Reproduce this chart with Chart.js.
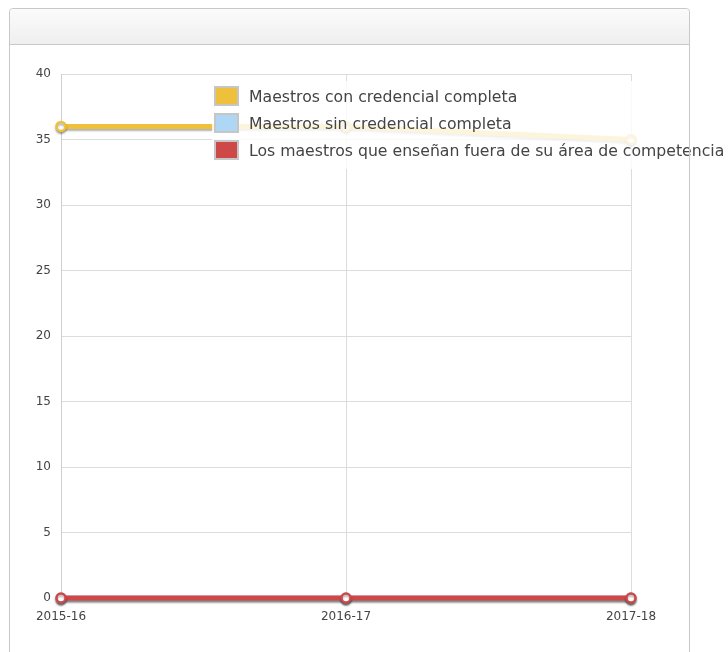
<!DOCTYPE html>
<html>
<head>
<meta charset="utf-8">
<script src="https://cdn.jsdelivr.net/npm/chart.js@4.4.0/dist/chart.umd.min.js"></script>
<style>
	body { margin: 0; background: #fff; font-family: "DejaVu Sans", Verdana, sans-serif; overflow: hidden; }
	.panel { position: absolute; left: 9px; top: 8px; width: 679px; height: 700px; border: 1px solid #c8c8c8; border-radius: 4px; }
	.panel .head { height: 35px; border-bottom: 1px solid #c8c8c8; border-radius: 4px 4px 0 0; background: linear-gradient(#fbfbfb, #efefef); }
	.wrap { position: absolute; left: 0; top: 44px; width: 728px; height: 608px; }
	#leyenda { position: absolute; left: 212px; top: 81px; width: 476px; padding: 2px 0 5px 2px; background: rgba(255,255,255,0.82); }
	#leyenda div { height: 27px; line-height: 27px; white-space: nowrap; font-size: 15.7px; color: #444; }
	#leyenda span { display: inline-block; width: 25px; height: 20px; border: 2px solid #c6c6c6; box-sizing: border-box; vertical-align: -4px; margin-right: 10px; }
	.borde { position: absolute; left: 689px; top: 44px; width: 1px; height: 660px; background: #c8c8c8; }
</style>
</head>
<body>
<div class="panel"><div class="head"></div></div>
<div class="wrap"><canvas id="grafica"></canvas></div>
<div id="leyenda"></div>
<div class="borde"></div>
<script>
var anios = ["2015-16", "2016-17", "2017-18"];
var conCredencial = [36, 36, 35];
var sinCredencial = [0, 0, 0];
var fueraDeArea = [0, 0, 0];
var nombres = ["Maestros con credencial completa", "Maestros sin credencial completa", "Los maestros que enseñan fuera de su área de competencia"];
var colores = ["#eec03b", "#aed6f5", "#cf4848"];

// sombra debajo de las lineas
var sombra = {
	id: 'sombra',
	beforeDatasetDraw: function(chart) {
		var c = chart.ctx;
		c.save();
		c.shadowColor = 'rgba(0,0,0,0.3)';
		c.shadowOffsetY = 2;
		c.shadowBlur = 2;
	},
	afterDatasetDraw: function(chart) {
		chart.ctx.restore();
	}
};

function serie(i, datos, orden) {
	return {
		label: nombres[i],
		data: datos,
		borderColor: colores[i],
		backgroundColor: '#fff',
		pointBackgroundColor: '#fff',
		pointBorderColor: colores[i],
		pointBorderWidth: 2.5,
		pointRadius: 4.5,
		borderWidth: 5,
		tension: 0,
		fill: false,
		clip: false,
		order: orden
	};
}

var ctx = document.getElementById('grafica');
var grafica = new Chart(ctx, {
	type: 'line',
	data: {
		labels: anios,
		datasets: [
			serie(0, conCredencial, 2),
			serie(1, sinCredencial, 1),
			serie(2, fueraDeArea, 0)
		]
	},
	options: {
		responsive: true,
		maintainAspectRatio: false,
		animation: false,
		layout: { padding: { left: 0, right: 97, top: 30, bottom: 14 } },
		plugins: {
			legend: { display: false },
			tooltip: { enabled: false }
		},
		scales: {
			x: {
				offset: false,
				grid: { color: '#dcdcdc', drawTicks: false },
				border: { color: '#cfcfcf' },
				ticks: { color: '#444', padding: 12, maxRotation: 0, font: { family: 'DejaVu Sans', size: 12 } },
				afterFit: function(s) { s.height = 40; }
			},
			y: {
				min: 0,
				max: 40,
				grid: { color: '#dcdcdc', drawTicks: false },
				border: { color: '#cfcfcf' },
				ticks: { stepSize: 5, color: '#444', padding: 10, font: { family: 'DejaVu Sans', size: 12 } },
				afterFit: function(s) { s.width = 61; }
			}
		}
	},
	plugins: [sombra]
});

var html = '';
for (var i = 0; i < nombres.length; i++) {
	html += '<div><span style="background:' + colores[i] + '"></span>' + nombres[i] + '</div>';
}
document.getElementById('leyenda').innerHTML = html;
</script>
</body>
</html>
